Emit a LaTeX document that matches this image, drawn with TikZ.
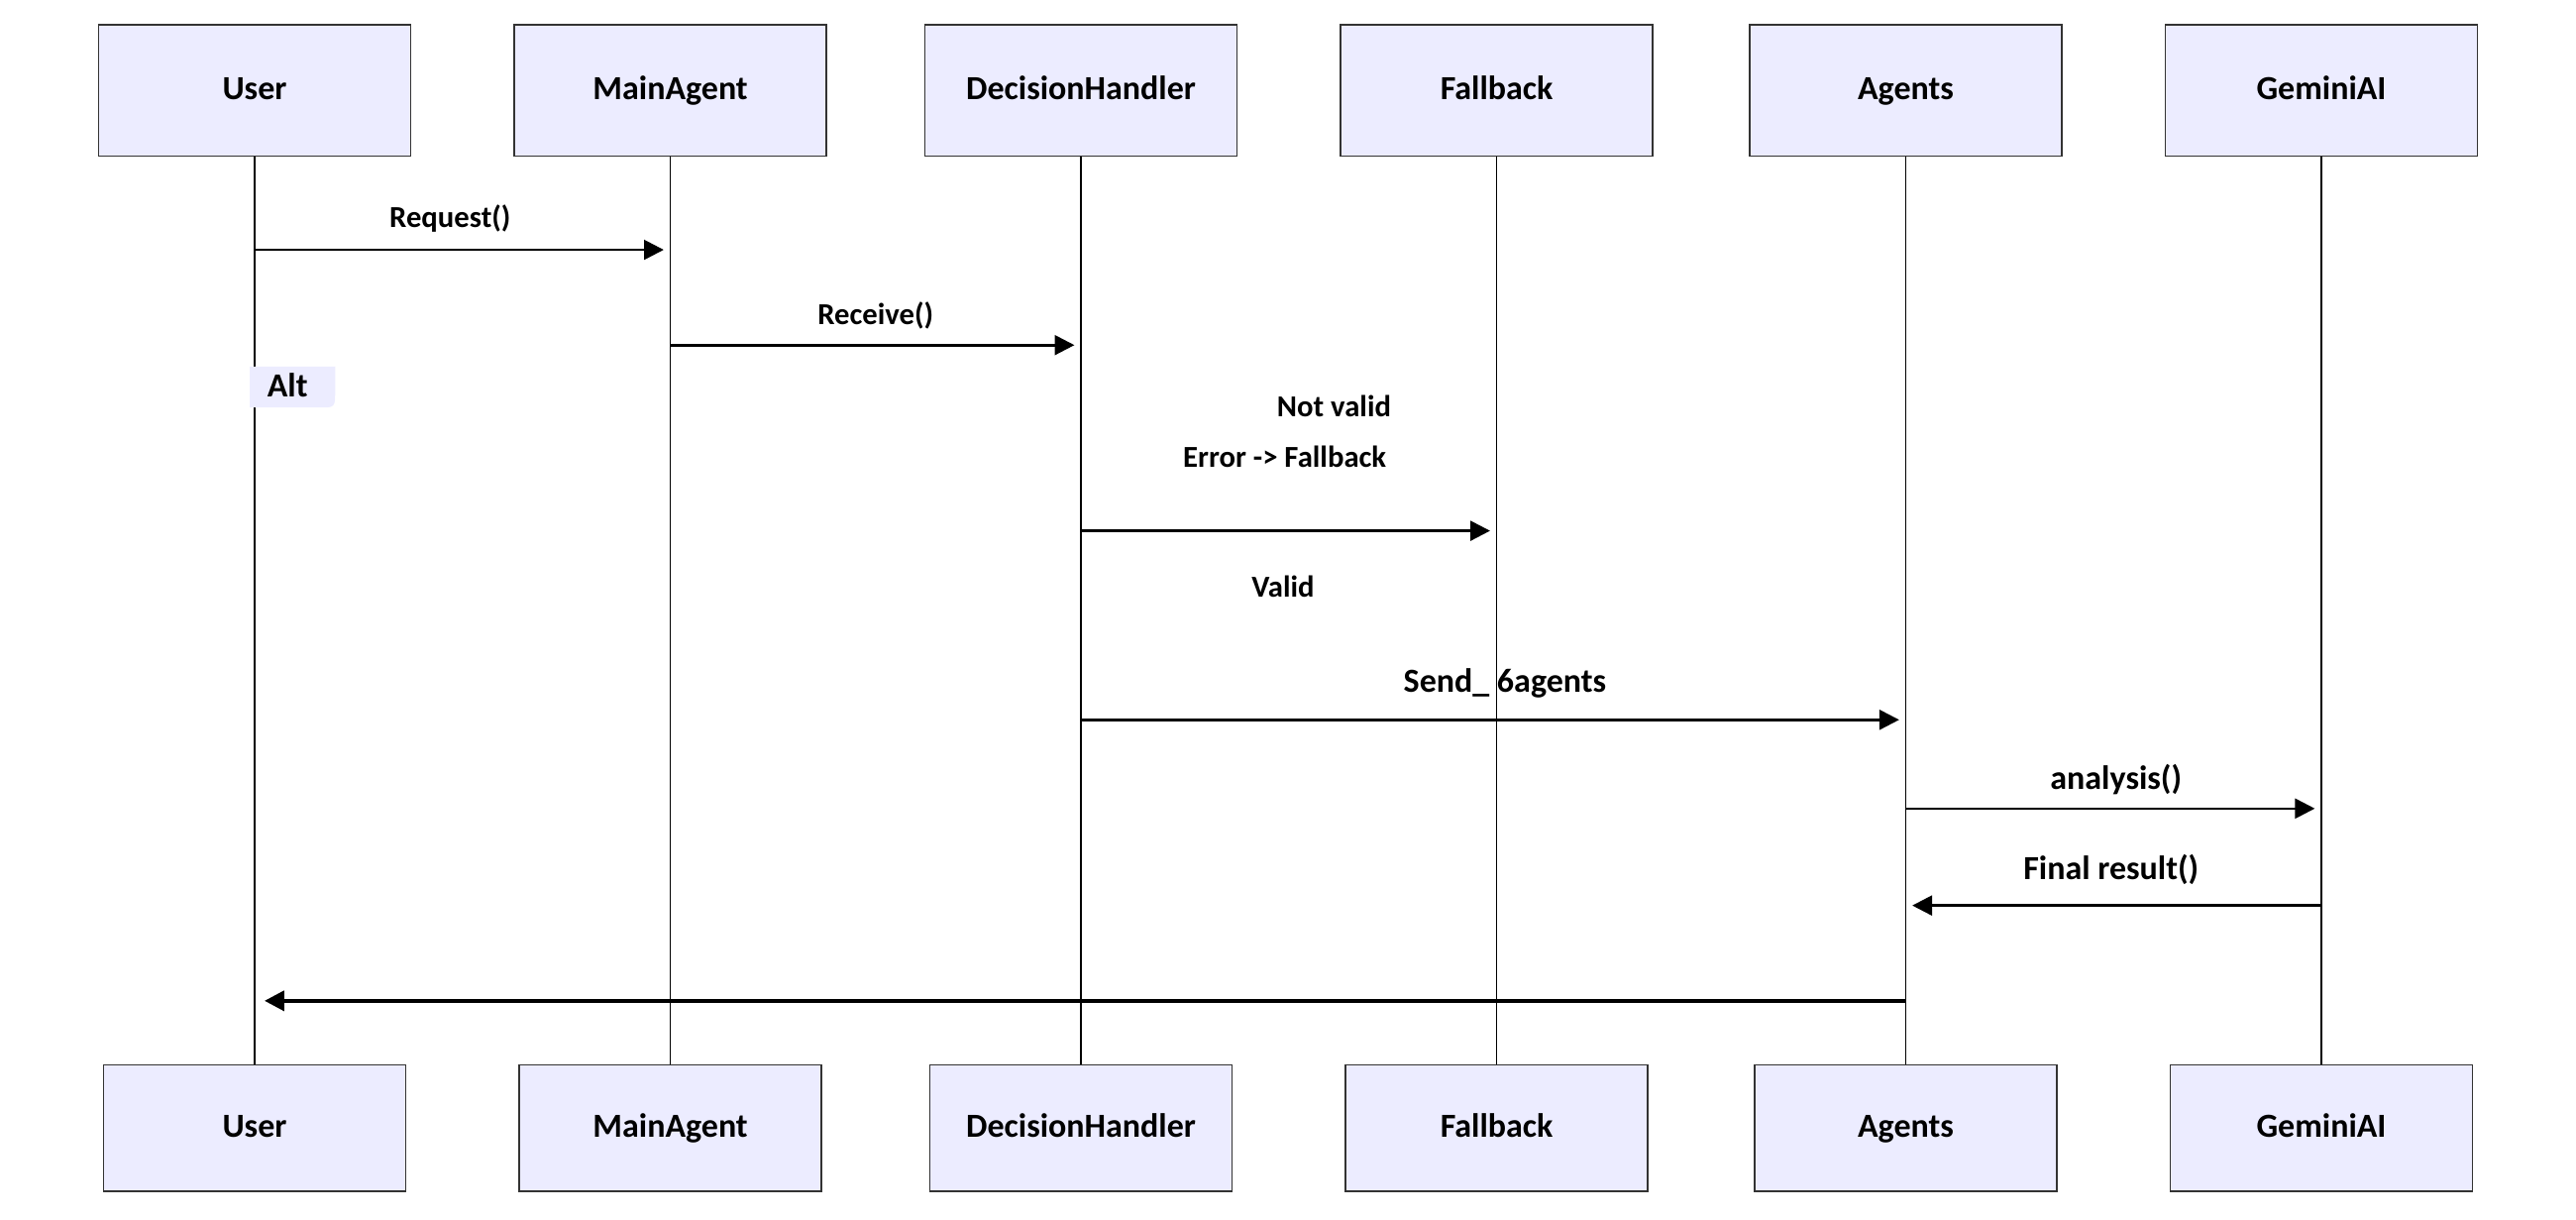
\documentclass[tikz,border=0pt]{standalone}
\usepackage{fontspec}
\setmainfont{Carlito}
\usetikzlibrary{arrows.meta}

\definecolor{actorfill}{HTML}{ECECFF}
\definecolor{actorline}{HTML}{333333}

\tikzset{
  actor/.style={draw=actorline, line width=1pt, fill=actorfill, minimum width=190pt, minimum height=80pt, text height=2.3ex, text depth=0pt, font=\fontsize{20.5}{24}\selectfont\bfseries},
  actorbot/.style={actor, minimum width=184pt, minimum height=77pt},
  lifeline/.style={line width=0.9pt},
  msg/.style={line width=1.6pt, -{Triangle[length=12pt,width=12pt]}, shorten >=4pt},
  smalltext/.style={text height=2.3ex, text depth=0pt, font=\fontsize{18.5}{22}\selectfont\bfseries},
  bigtext/.style={text height=2.3ex, text depth=0pt, font=\fontsize{20.5}{24}\selectfont\bfseries}
}

\begin{document}
\begin{tikzpicture}[x=1pt,y=-1pt]
        \useasboundingbox (0,0) rectangle (1568,742);

        % Participants (top)
        \node[actor] (user-t) at (155,55) {User};
        \node[actor] (main-t) at (408,55) {MainAgent};
        \node[actor] (dec-t) at (658,55) {DecisionHandler};
        \node[actor] (fall-t) at (911,55) {Fallback};
        \node[actor] (agents-t) at (1160,55) {Agents};
        \node[actor] (gemini-t) at (1413,55) {GeminiAI};

        % Participants (bottom)
        \node[actorbot] (user-b) at (155,686.5) {User};
        \node[actorbot] (main-b) at (408,686.5) {MainAgent};
        \node[actorbot] (dec-b) at (658,686.5) {DecisionHandler};
        \node[actorbot] (fall-b) at (911,686.5) {Fallback};
        \node[actorbot] (agents-b) at (1160,686.5) {Agents};
        \node[actorbot] (gemini-b) at (1413,686.5) {GeminiAI};

        % Lifelines
        \draw[lifeline] (user-t) -- (user-b);
        \draw[lifeline] (main-t) -- (main-b);
        \draw[lifeline] (dec-t) -- (dec-b);
        \draw[lifeline] (fall-t) -- (fall-b);
        \draw[lifeline] (agents-t) -- (agents-b);
        \draw[lifeline] (gemini-t) -- (gemini-b);

        % Request() - User to MainAgent
        \draw[msg] (user-t |- 0,152) -- (main-t |- 0,152);
        \node[smalltext] (req) at (274,133) {Request()};

        % Receive() - MainAgent to DecisionHandler
        \draw[msg] (main-t |- 0,210) -- (dec-t |- 0,210);
        \node[smalltext] (rec) at (533,192) {Receive()};

        % Alt block label
        \fill[actorfill] (152,223) -- (204,223) -- (204,238) .. controls (204,248) .. (194,248) -- (152,248) -- cycle;
        \node[bigtext] (alt) at (175,236) {Alt};

        % Not valid branch
        \node[smalltext] (notvalid) at (812,248) {Not valid};
        \node[smalltext] (err) at (782,279) {Error -> Fallback};
        \draw[msg] (dec-t |- 0,323) -- (fall-t |- 0,323);

        % Valid branch
        \node[smalltext] (valid) at (781,358) {Valid};
        \node[bigtext] (send) at (916,416) {Send\_ 6agents};
        \draw[msg] (dec-t |- 0,438) -- (agents-t |- 0,438);

        % analysis() - Agents to GeminiAI
        \node[bigtext] (ana) at (1288,475) {analysis()};
        \draw[msg] (agents-t |- 0,492) -- (gemini-t |- 0,492);

        % Final result() - GeminiAI back to Agents
        \node[bigtext] (fin) at (1285,530) {Final result()};
        \draw[msg] (gemini-t |- 0,551) -- (agents-t |- 0,551);

        % Reply to User
        \draw[msg, line width=2.4pt, shorten >=6pt] (agents-t |- 0,609) -- (user-t |- 0,609);
\end{tikzpicture}
\end{document}
